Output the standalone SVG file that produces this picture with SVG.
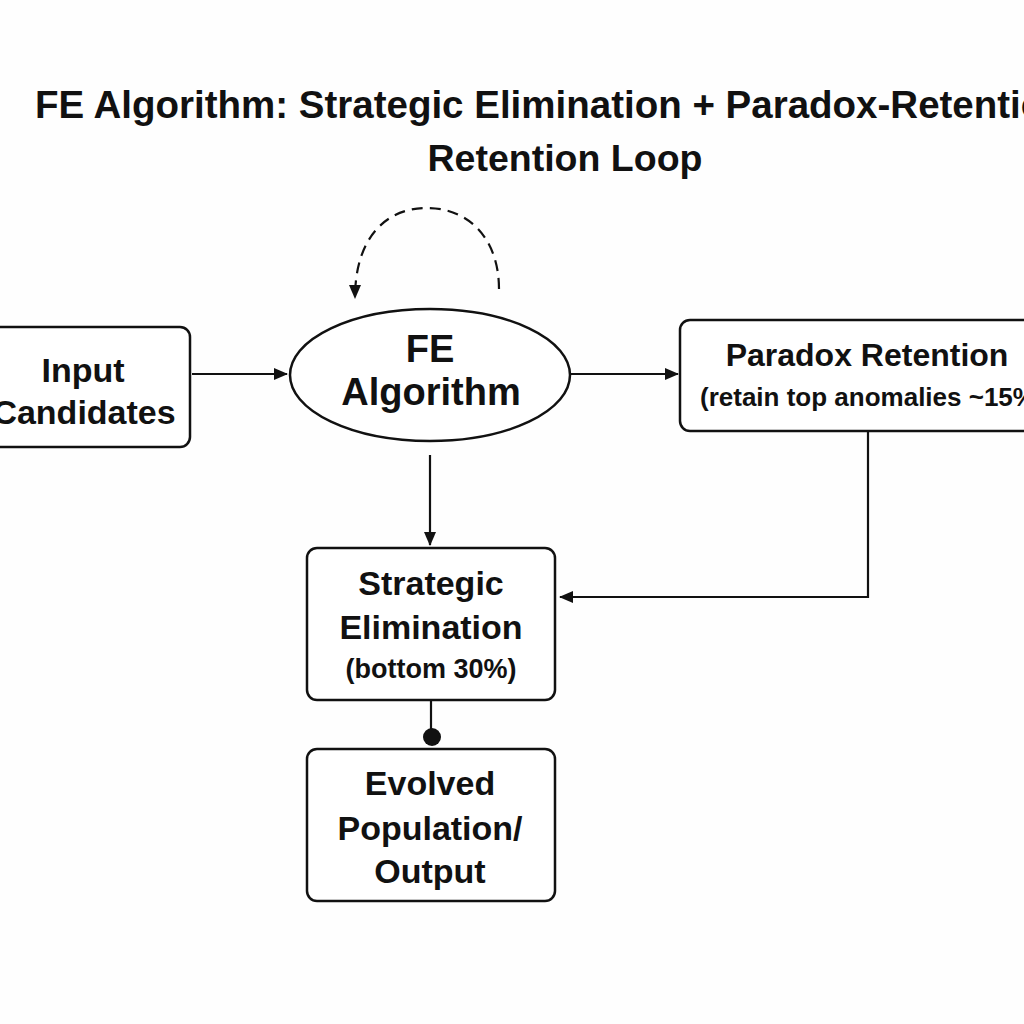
<svg xmlns="http://www.w3.org/2000/svg" width="1024" height="1024" viewBox="0 0 1024 1024">
<style>
text{font-family:"Liberation Sans",Arial,sans-serif;font-weight:bold;fill:#111;text-anchor:middle}
.box{fill:#fff;stroke:#111;stroke-width:2.5}
.ln{fill:none;stroke:#111;stroke-width:2.2}
.t{font-size:34px}
</style>
<defs>
<marker id="ah" viewBox="0 0 14 12" refX="13" refY="6" markerWidth="14" markerHeight="12" orient="auto" markerUnits="userSpaceOnUse">
<path d="M0,0 L14,6 L0,12 z" fill="#111"/>
</marker>
</defs>
<rect width="1024" height="1024" fill="#fefefe"/>
<g id="title">
<text x="35" y="118" font-size="38.5" style="text-anchor:start">FE Algorithm: Strategic Elimination + Paradox-Retention</text>
<text x="565" y="171" font-size="37.5">Retention Loop</text>
</g>
<g id="connectors">
<line class="ln" x1="192" y1="374" x2="287" y2="374" marker-end="url(#ah)"/>
<line class="ln" x1="570" y1="374" x2="678" y2="374" marker-end="url(#ah)"/>
<line class="ln" x1="430" y1="455" x2="430" y2="545" marker-end="url(#ah)"/>
<polyline class="ln" points="868,431 868,597 560,597" marker-end="url(#ah)"/>
<path class="ln" d="M499,289 C499,240 470,208 427,208 C384,208 355,240 355,298" stroke-dasharray="11,7" marker-end="url(#ah)"/>
<line class="ln" x1="431" y1="700" x2="431" y2="737"/>
<circle cx="432" cy="737" r="9" fill="#111"/>
</g>
<g id="input">
<rect class="box" x="-12" y="327" width="202" height="120" rx="10"/>
<text class="t" x="83" y="382">Input</text>
<text class="t" x="84" y="424">Candidates</text>
</g>
<g id="fe">
<ellipse class="box" cx="430" cy="375" rx="140" ry="66"/>
<text x="430" y="362" font-size="38">FE</text>
<text x="431" y="405" font-size="38">Algorithm</text>
</g>
<g id="paradox">
<rect class="box" x="680" y="320" width="360" height="111" rx="10"/>
<text x="867" y="366" font-size="32">Paradox Retention</text>
<text x="700" y="406" font-size="26" style="text-anchor:start">(retain top anomalies ~15%)</text>
</g>
<g id="elim">
<rect class="box" x="307" y="548" width="248" height="152" rx="10"/>
<text class="t" x="431" y="595">Strategic</text>
<text class="t" x="431" y="639">Elimination</text>
<text x="431" y="678" font-size="27">(bottom 30%)</text>
</g>
<g id="output">
<rect class="box" x="307" y="749" width="248" height="152" rx="10"/>
<text class="t" x="430" y="795">Evolved</text>
<text class="t" x="430" y="840">Population/</text>
<text class="t" x="430" y="883">Output</text>
</g>
</svg>
